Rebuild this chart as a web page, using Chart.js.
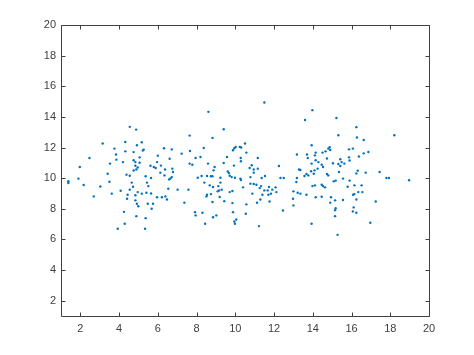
<!DOCTYPE html>
<html>
<head>
<meta charset="utf-8">
<script src="https://cdn.jsdelivr.net/npm/chart.js@4.4.1/dist/chart.umd.min.js"></script>
<style>
html,body{margin:0;padding:0;background:#fff;}
#c{display:block;}
</style>
</head>
<body>
<canvas id="c" width="474" height="355"></canvas>
<script>
// ---- data ----
const xValues = [
3.15,3.76,3.84,2.47,3.86,4.2,3.53,1.97,3.41,1.9,1.38,1.38,3.5,2.17,3.03,4.08,3.62,2.69,4.25,3.93,
4.55,4.88,4.32,5.17,4.92,5.27,5.22,4.32,4.75,6.32,6.72,6.0,5.06,6.61,7.23,4.75,4.84,5.06,5.96,5.62,
5.79,5.89,4.84,4.96,4.75,4.89,6.16,6.37,6.75,6.78,6.13,6.34,4.38,4.55,6.65,6.58,6.72,5.37,5.65,5.44,
5.51,4.65,4.72,4.55,6.54,7.02,4.96,5.17,5.41,5.65,4.44,4.84,4.41,5.96,6.21,6.39,6.47,7.37,4.84,4.92,
4.99,5.48,5.75,5.68,4.89,5.37,4.29,5.34,
8.61,9.4,7.64,8.82,10.5,10.02,10.23,10.3,9.95,7.66,8.37,9.88,10.57,8.2,7.95,9.57,10.28,10.29,7.64,7.78,
8.59,9.4,9.93,8.93,8.88,9.61,9.67,8.26,8.06,8.54,8.74,8.82,9.23,9.71,9.81,9.98,10.26,10.29,8.4,9.23,
8.85,9.12,8.68,9.16,9.09,9.3,9.71,9.85,10.4,7.58,8.54,8.74,8.51,9.19,9.43,8.82,9.85,10.57,7.92,7.95,
8.3,9.88,10.54,9.02,8.85,10.05,9.95,9.98,8.44,
11.5,13.6,13.18,13.7,13.74,11.16,10.85,10.74,10.95,11.16,12.25,13.29,13.36,10.95,11.53,11.36,13.67,13.57,13.77,13.18,
10.78,12.33,12.5,13.15,10.78,10.95,11.09,11.33,11.26,11.74,11.67,11.91,12.08,11.5,11.84,11.71,12.12,10.88,11.4,13.0,
13.22,13.36,13.67,11.29,11.12,11.77,12.98,13.0,12.46,11.22,
13.98,15.22,16.25,15.32,16.28,16.63,13.94,14.87,14.8,14.9,14.15,14.11,14.5,14.66,15.87,16.07,16.87,16.63,15.87,15.9,
16.38,15.42,15.49,14.73,14.29,14.15,13.94,15.04,15.32,15.42,14.46,14.53,15.63,13.91,14.05,14.09,14.25,14.73,14.8,15.35,
16.32,16.25,16.73,15.56,15.9,15.08,15.18,13.98,14.11,14.46,14.63,14.53,15.8,16.15,16.52,16.15,16.08,16.35,16.56,14.15,
14.46,14.94,15.56,16.25,14.9,15.15,15.18,15.15,16.11,16.07,16.25,15.15,16.97,13.94,15.28,
18.21,17.45,17.8,17.93,18.97,17.25
];
const yValues = [
12.26,11.93,11.54,11.32,11.21,11.05,10.95,10.73,10.29,9.97,9.8,9.68,9.77,9.55,9.46,9.18,8.99,8.81,7.8,6.7,
13.35,13.17,12.36,12.34,12.15,11.86,11.8,11.75,11.7,11.95,11.88,11.47,11.36,11.27,11.6,11.17,11.05,11.01,11.05,10.81,
10.73,10.66,10.81,10.7,10.5,10.57,10.82,10.57,10.62,10.4,10.36,10.18,10.23,10.16,9.98,9.92,10.07,10.12,10.01,9.71,
9.48,9.71,9.44,9.25,9.31,9.25,9.09,8.99,9.05,9.0,8.92,8.88,8.66,8.75,8.75,8.81,8.61,8.4,8.55,8.33,
8.17,8.33,8.33,8.0,7.52,7.39,7.02,6.7,
14.33,13.19,12.78,12.63,12.26,12.04,12.04,12.0,11.95,11.77,11.97,11.82,11.67,11.38,11.32,11.38,11.32,11.1,10.95,10.88,
10.95,10.99,10.82,10.73,10.51,10.43,10.33,10.14,10.03,10.14,10.12,10.12,10.03,10.16,10.07,10.03,9.97,9.88,9.71,9.71,
9.42,9.48,9.53,9.2,9.14,9.25,9.09,9.16,9.4,9.25,8.92,8.96,8.81,8.77,8.5,8.44,8.37,8.29,7.78,7.57,
7.74,7.78,7.68,7.57,7.45,7.3,7.17,7.02,7.02,
14.94,13.8,11.54,11.54,11.32,11.32,10.84,10.66,10.57,10.62,10.79,10.57,10.53,10.36,10.14,10.01,10.27,10.14,10.18,10.01,
10.07,10.01,10.01,9.75,9.64,9.62,9.57,9.48,9.35,9.42,9.2,9.25,9.4,9.2,8.99,8.92,9.09,8.99,8.92,9.14,
9.05,8.99,8.92,8.61,8.39,8.48,8.66,8.22,7.89,6.87,
14.44,13.93,13.33,12.8,12.65,12.49,12.15,12.02,11.93,11.84,11.67,11.49,11.67,11.75,11.88,11.93,11.71,11.62,11.36,11.15,
11.41,11.23,11.05,11.28,11.05,11.17,10.95,10.97,10.92,10.79,10.88,10.73,10.95,10.45,10.29,10.51,10.62,10.27,10.18,10.4,
10.49,10.31,10.36,9.97,9.84,9.79,9.84,9.48,9.53,9.57,9.4,9.48,9.44,9.53,9.53,8.96,8.92,9.09,9.09,8.75,
8.79,8.75,8.57,8.61,8.4,8.55,8.04,7.91,8.09,7.83,7.74,7.52,7.09,7.02,6.3,
12.8,10.4,10.01,10.01,9.86,8.48
];
const xTicks = [2,4,6,8,10,12,14,16,18,20];
const yTicks = [2,4,6,8,10,12,14,16,18,20];
const axisRange = {min: 1, max: 20};

const points = xValues.map((x, i) => ({x: x, y: yValues[i]}));

const AXIS_COLOR = '#404040';

const boxPlugin = {
  id: 'matlabBox',
  afterDraw(chart) {
    const ctx = chart.ctx;
    const a = chart.chartArea;
    const xs = chart.scales.x, ys = chart.scales.y;
    ctx.save();
    ctx.strokeStyle = AXIS_COLOR;
    ctx.lineWidth = 1;
    const L = Math.round(a.left) + 0.5, R = Math.round(a.right) + 0.5;
    const T = Math.round(a.top) + 0.5, B = Math.round(a.bottom) + 0.5;
    ctx.beginPath();
    ctx.rect(L, T, R - L, B - T);
    ctx.stroke();
    const len = 4;
    ctx.beginPath();
    xTicks.forEach(v => {
      const p = Math.round(xs.getPixelForValue(v)) + 0.5;
      ctx.moveTo(p, B); ctx.lineTo(p, B - len);
      ctx.moveTo(p, T); ctx.lineTo(p, T + len);
    });
    yTicks.forEach(v => {
      const p = Math.round(ys.getPixelForValue(v)) + 0.5;
      ctx.moveTo(L, p); ctx.lineTo(L + len, p);
      ctx.moveTo(R, p); ctx.lineTo(R - len, p);
    });
    ctx.stroke();
    ctx.restore();
  }
};

new Chart(document.getElementById('c'), {
  type: 'scatter',
  data: {
    datasets: [{
      data: points,
      pointRadius: 1.2,
      pointHoverRadius: 1.2,
      pointBorderWidth: 0,
      backgroundColor: '#0072BD',
      borderColor: '#0072BD'
    }]
  },
  options: {
    responsive: false,
    animation: false,
    devicePixelRatio: 1,
    layout: {padding: {top: 25, right: 45, left: 0, bottom: 0}},
    plugins: {legend: {display: false}, tooltip: {enabled: false}},
    scales: {
      x: {
        type: 'linear',
        min: axisRange.min, max: axisRange.max,
        afterBuildTicks: s => { s.ticks = xTicks.map(v => ({value: v})); },
        afterFit: s => { s.height = 39; },
        grid: {display: false, drawTicks: false},
        border: {display: false},
        ticks: {color: AXIS_COLOR, padding: 6, maxRotation: 0,
                font: {family: '"Liberation Sans", Arial, Helvetica, sans-serif', size: 11}}
      },
      y: {
        type: 'linear',
        min: axisRange.min, max: axisRange.max,
        afterBuildTicks: s => { s.ticks = yTicks.map(v => ({value: v})); },
        afterFit: s => { s.width = 61; },
        grid: {display: false, drawTicks: false},
        border: {display: false},
        ticks: {color: AXIS_COLOR, padding: 5,
                font: {family: '"Liberation Sans", Arial, Helvetica, sans-serif', size: 11}}
      }
    }
  },
  plugins: [boxPlugin]
});
</script>
</body>
</html>
